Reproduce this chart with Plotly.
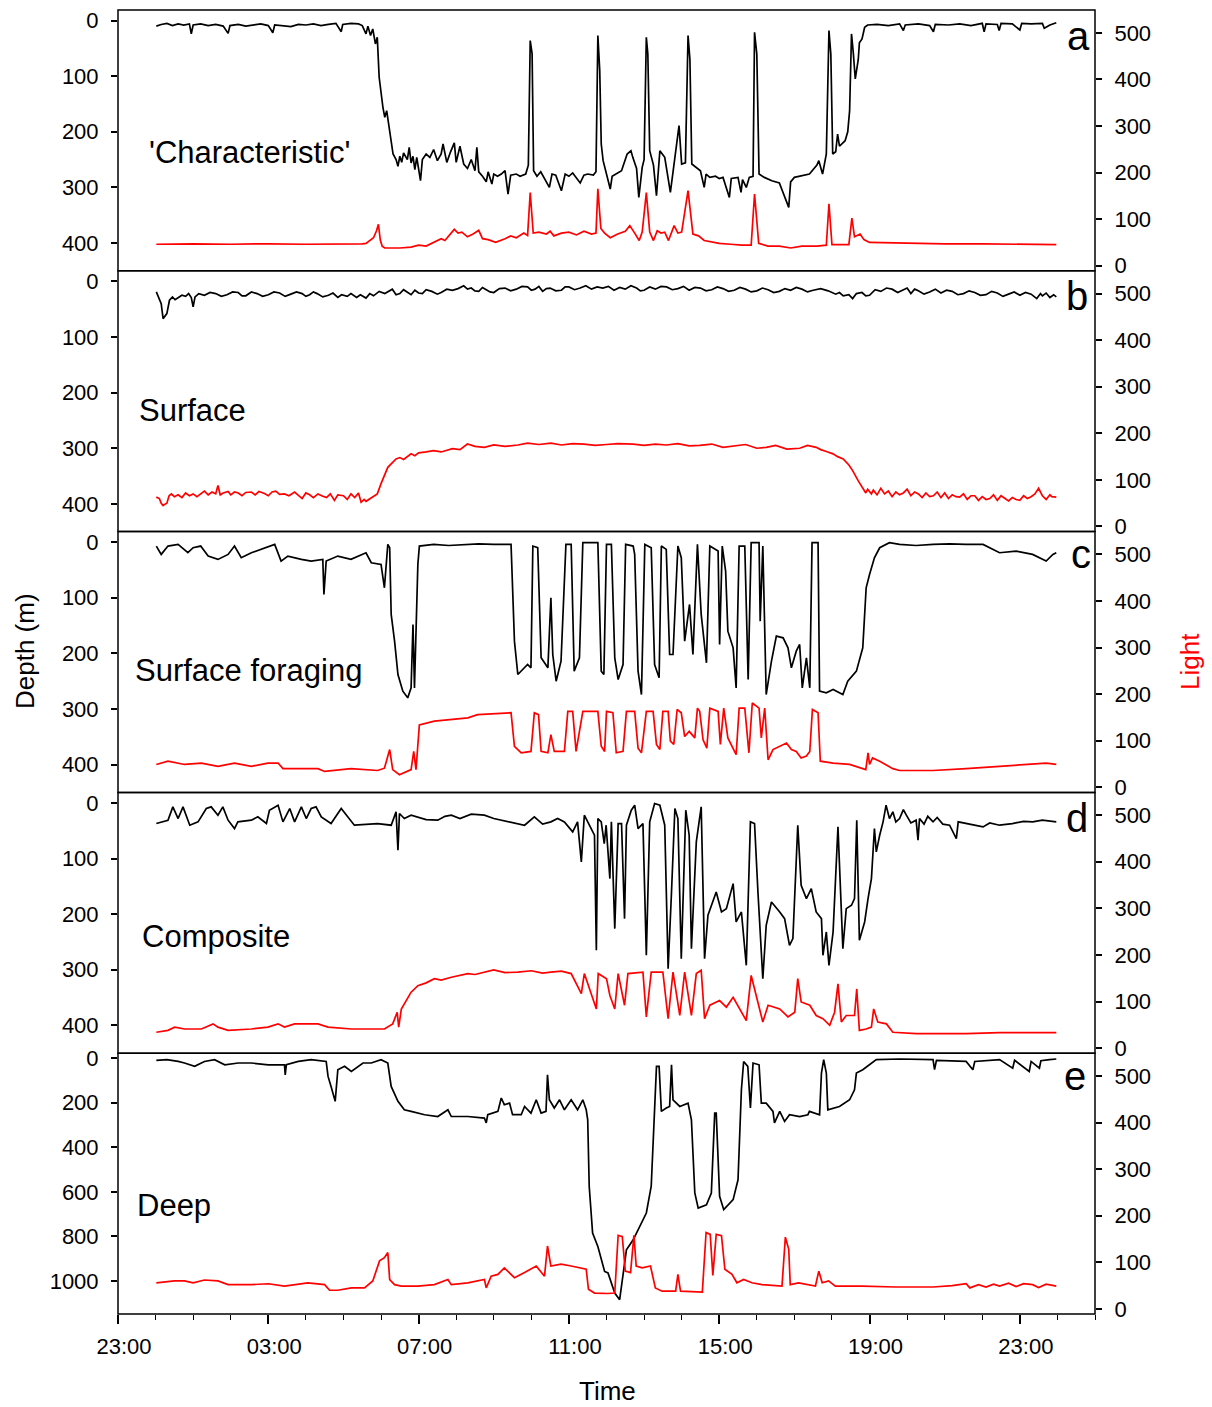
import pandas as pd
import plotly.graph_objects as go

# time in hours after 23:00 of the first day; depth in m; light in arbitrary units
A_DEPTH = [(1.02,10),(1.15,7),(1.3,5),(1.45,9),(1.6,6),(1.75,8),(1.9,6),(1.95,24),(2.0,8),(2.2,6),(2.4,9),(2.6,7),(2.8,10),(2.93,23),(2.98,9),(3.2,7),(3.4,10),(3.6,8),(3.8,6),(4.0,9),(4.12,22),(4.17,8),(4.4,9),(4.6,11),(4.8,7),(5.0,8),(5.2,6),(5.4,9),(5.6,7),(5.8,5),(5.94,20),(5.98,7),(6.2,5),(6.4,6),(6.5,9),(6.6,24),(6.65,10),(6.72,27),(6.78,15),(6.85,42),(6.9,30),(6.95,102),(7.05,156),(7.1,174),(7.15,162),(7.2,186),(7.25,204),(7.32,240),(7.4,250),(7.45,262),(7.5,244),(7.55,255),(7.6,238),(7.7,250),(7.75,228),(7.8,256),(7.85,244),(7.9,268),(7.95,246),(8.05,288),(8.1,250),(8.2,240),(8.3,246),(8.4,232),(8.5,252),(8.6,240),(8.65,222),(8.75,255),(8.85,236),(8.95,220),(9.0,255),(9.1,226),(9.2,258),(9.3,266),(9.4,250),(9.5,270),(9.55,228),(9.6,272),(9.7,280),(9.8,290),(9.85,272),(9.95,294),(10.0,276),(10.1,280),(10.2,276),(10.3,270),(10.38,312),(10.45,278),(10.6,276),(10.7,280),(10.85,276),(10.92,260),(10.97,36),(11.02,60),(11.06,270),(11.15,280),(11.25,272),(11.35,284),(11.48,300),(11.55,276),(11.65,278),(11.8,306),(11.9,276),(12.0,280),(12.1,274),(12.3,292),(12.4,278),(12.5,276),(12.65,278),(12.72,272),(12.77,27),(12.82,90),(12.86,222),(12.91,252),(13.0,276),(13.1,303),(13.15,280),(13.25,276),(13.4,270),(13.55,240),(13.65,234),(13.7,246),(13.8,266),(13.86,318),(13.95,264),(14.0,250),(14.06,30),(14.1,60),(14.15,234),(14.25,260),(14.33,315),(14.42,234),(14.55,246),(14.7,309),(14.8,258),(14.93,189),(15.0,258),(15.1,256),(15.17,27),(15.22,70),(15.27,258),(15.4,264),(15.5,270),(15.6,300),(15.65,276),(15.75,282),(15.9,280),(16.0,284),(16.1,282),(16.27,318),(16.32,284),(16.5,282),(16.58,309),(16.62,286),(16.72,300),(16.8,282),(16.9,280),(16.94,21),(17.0,60),(17.06,276),(17.2,282),(17.4,288),(17.6,292),(17.85,336),(17.9,290),(18.0,282),(18.2,279),(18.4,276),(18.6,260),(18.65,252),(18.75,276),(18.85,240),(18.92,18),(18.97,60),(19.02,240),(19.1,236),(19.15,204),(19.2,226),(19.35,216),(19.42,200),(19.47,162),(19.52,24),(19.57,60),(19.62,105),(19.7,70),(19.73,40),(19.8,33),(19.87,12),(19.95,8),(20.2,7),(20.5,9),(20.8,6),(20.9,18),(20.95,8),(21.3,6),(21.6,9),(21.7,20),(21.75,7),(22.1,8),(22.4,6),(22.7,9),(23.0,5),(23.05,20),(23.1,6),(23.4,7),(23.45,18),(23.5,5),(23.8,6),(24.0,17),(24.05,5),(24.3,6),(24.6,5),(24.65,14),(24.8,8),(24.97,4)]
A_LIGHT = [(1.02,46),(2.0,47),(3.0,46),(4.0,47),(5.0,46),(6.0,46),(6.5,47),(6.6,48),(6.7,55),(6.8,60),(6.88,75),(6.93,89),(6.98,55),(7.03,42),(7.1,38),(7.5,38),(7.8,40),(8.0,44),(8.2,42),(8.4,50),(8.6,58),(8.7,54),(8.8,64),(8.95,78),(9.05,70),(9.15,72),(9.3,62),(9.45,68),(9.6,76),(9.7,58),(9.85,56),(10.05,50),(10.3,58),(10.45,64),(10.6,60),(10.8,70),(10.9,65),(10.97,157),(11.05,70),(11.2,72),(11.4,68),(11.5,74),(11.6,64),(11.8,70),(12.0,72),(12.2,66),(12.4,74),(12.6,68),(12.72,70),(12.77,165),(12.85,80),(12.95,70),(13.1,60),(13.3,68),(13.5,74),(13.62,86),(13.75,70),(13.87,54),(13.95,72),(14.06,157),(14.15,72),(14.25,54),(14.35,75),(14.45,70),(14.55,72),(14.65,54),(14.8,86),(14.9,70),(15.0,72),(15.17,161),(15.3,68),(15.45,64),(15.6,54),(15.75,52),(16.0,48),(16.3,46),(16.6,44),(16.85,44),(16.94,154),(17.05,48),(17.3,42),(17.6,42),(17.9,38),(18.2,42),(18.6,42),(18.85,44),(18.92,133),(19.0,45),(19.45,45),(19.53,102),(19.6,62),(19.75,68),(19.85,56),(20.0,50),(21.0,48),(22.0,47),(23.0,47),(24.0,46),(24.97,45)]

B_DEPTH = [(1.02,19),(1.08,30),(1.15,40),(1.2,67),(1.25,62),(1.3,58),(1.37,34),(1.45,28),(1.52,33),(1.6,30),(1.7,25),(1.8,27),(1.88,22),(1.95,29),(2.0,46),(2.05,28),(2.15,22),(2.3,25),(2.45,20),(2.6,22),(2.75,27),(2.9,24),(3.05,19),(3.2,20),(3.3,26),(3.4,26),(3.55,19),(3.7,22),(3.85,27),(4.0,24),(4.15,19),(4.3,21),(4.45,27),(4.6,23),(4.75,19),(4.9,22),(5.0,27),(5.1,24),(5.2,19),(5.3,22),(5.45,28),(5.6,25),(5.72,21),(5.85,29),(5.95,24),(6.1,27),(6.2,22),(6.35,29),(6.45,24),(6.6,30),(6.7,22),(6.8,26),(6.95,18),(7.1,22),(7.2,18),(7.3,14),(7.4,24),(7.5,22),(7.6,15),(7.7,20),(7.8,24),(7.9,16),(8.0,21),(8.1,22),(8.2,15),(8.35,18),(8.5,23),(8.6,20),(8.75,14),(8.9,16),(9.05,13),(9.2,8),(9.3,14),(9.4,12),(9.5,17),(9.6,18),(9.7,11),(9.8,15),(9.9,19),(10.0,20),(10.15,13),(10.3,12),(10.45,17),(10.6,14),(10.75,9),(10.9,10),(11.0,16),(11.1,14),(11.2,9),(11.3,18),(11.4,13),(11.5,12),(11.65,17),(11.8,16),(11.9,10),(12.0,10),(12.15,15),(12.3,12),(12.45,8),(12.6,14),(12.75,10),(12.9,12),(13.05,9),(13.2,16),(13.35,11),(13.5,14),(13.65,8),(13.8,12),(13.9,17),(14.0,16),(14.15,10),(14.3,14),(14.45,9),(14.6,10),(14.75,15),(14.9,13),(15.05,9),(15.2,16),(15.35,11),(15.5,12),(15.65,17),(15.8,15),(15.95,10),(16.1,13),(16.25,18),(16.4,16),(16.55,11),(16.7,14),(16.85,19),(17.0,17),(17.15,12),(17.3,15),(17.45,20),(17.6,18),(17.75,13),(17.9,16),(18.05,11),(18.2,14),(18.35,19),(18.5,16),(18.7,13),(18.9,17),(19.0,20),(19.1,23),(19.2,20),(19.3,26),(19.45,24),(19.55,31),(19.65,22),(19.8,20),(19.9,26),(20.0,25),(20.15,15),(20.3,18),(20.45,12),(20.6,14),(20.75,20),(20.9,16),(21.0,12),(21.1,22),(21.2,14),(21.3,17),(21.45,23),(21.6,19),(21.75,14),(21.9,21),(22.05,16),(22.2,18),(22.35,24),(22.5,22),(22.65,17),(22.8,20),(22.95,25),(23.1,24),(23.25,18),(23.4,21),(23.55,27),(23.7,23),(23.85,19),(24.0,25),(24.15,20),(24.3,23),(24.45,31),(24.55,22),(24.6,26),(24.7,21),(24.8,29),(24.9,24),(24.97,28)]
B_LIGHT = [(1.02,63),(1.1,60),(1.15,50),(1.2,45),(1.25,48),(1.3,50),(1.36,66),(1.42,70),(1.5,64),(1.6,68),(1.7,62),(1.8,72),(1.9,66),(2.0,70),(2.1,64),(2.2,70),(2.3,76),(2.4,68),(2.5,74),(2.6,70),(2.66,88),(2.72,68),(2.8,72),(2.93,75),(3.0,68),(3.1,74),(3.2,72),(3.3,66),(3.4,73),(3.55,74),(3.65,68),(3.75,75),(3.9,71),(4.0,66),(4.1,74),(4.2,76),(4.3,69),(4.43,70),(4.55,66),(4.7,74),(4.8,68),(4.9,60),(5.0,72),(5.1,68),(5.2,62),(5.32,70),(5.45,65),(5.55,62),(5.65,70),(5.76,56),(5.85,68),(6.0,66),(6.1,58),(6.2,70),(6.3,62),(6.4,72),(6.47,52),(6.55,58),(6.6,54),(6.74,62),(6.9,70),(7.0,92),(7.18,127),(7.4,145),(7.5,148),(7.6,144),(7.8,156),(7.9,152),(8.0,158),(8.2,160),(8.4,163),(8.6,160),(8.9,167),(9.1,165),(9.3,177),(9.5,172),(9.75,170),(10.0,175),(10.3,172),(10.64,175),(10.9,179),(11.2,176),(11.52,179),(11.8,175),(12.1,178),(12.4,177),(12.7,174),(13.0,176),(13.3,178),(13.71,177),(14.0,174),(14.3,177),(14.59,175),(14.9,178),(15.2,173),(15.48,174),(15.8,177),(16.1,170),(16.37,172),(16.7,176),(17.0,168),(17.25,170),(17.5,174),(17.8,166),(18.14,168),(18.35,174),(18.58,170),(18.7,165),(18.85,161),(19.03,156),(19.15,150),(19.3,145),(19.45,132),(19.55,120),(19.7,98),(19.82,84),(19.9,72),(19.95,80),(20.05,70),(20.1,78),(20.2,68),(20.3,82),(20.4,70),(20.5,76),(20.6,64),(20.7,74),(20.8,68),(20.9,72),(21.0,80),(21.1,66),(21.2,74),(21.3,70),(21.4,62),(21.5,72),(21.6,64),(21.7,66),(21.8,74),(21.9,62),(22.0,72),(22.1,60),(22.2,68),(22.3,64),(22.4,63),(22.5,70),(22.6,58),(22.7,66),(22.8,66),(22.9,56),(23.0,64),(23.1,58),(23.2,60),(23.3,68),(23.4,56),(23.5,66),(23.6,60),(23.7,55),(23.8,62),(23.9,58),(24.0,56),(24.1,66),(24.2,60),(24.3,64),(24.4,70),(24.5,82),(24.55,74),(24.6,66),(24.7,58),(24.8,68),(24.85,64),(24.97,63)]

C_DEPTH = [(1.02,7),(1.15,22),(1.33,7),(1.6,4),(1.86,19),(2.0,10),(2.2,7),(2.4,25),(2.66,31),(2.93,22),(3.1,7),(3.28,28),(3.55,19),(3.81,13),(4.17,4),(4.34,34),(4.52,25),(4.88,31),(5.14,34),(5.45,31),(5.48,94),(5.54,34),(5.85,25),(6.2,31),(6.6,19),(6.74,37),(7.0,40),(7.09,82),(7.18,4),(7.23,10),(7.27,130),(7.36,178),(7.45,238),(7.58,268),(7.71,280),(7.8,262),(7.85,148),(7.89,262),(7.98,40),(8.02,7),(8.4,4),(8.8,6),(9.2,4),(9.6,3),(10.0,4),(10.46,4),(10.55,178),(10.64,238),(10.9,220),(10.99,226),(11.04,7),(11.17,10),(11.26,208),(11.44,226),(11.52,100),(11.57,202),(11.66,250),(11.79,214),(11.92,4),(12.06,4),(12.14,232),(12.28,208),(12.37,1),(12.77,1),(12.86,232),(12.93,238),(13.0,4),(13.13,4),(13.22,208),(13.31,247),(13.44,220),(13.51,4),(13.71,7),(13.75,22),(13.84,232),(13.93,274),(14.02,4),(14.19,10),(14.28,220),(14.4,244),(14.46,7),(14.59,13),(14.68,202),(14.77,202),(14.9,7),(14.99,28),(15.08,178),(15.21,112),(15.3,202),(15.42,4),(15.52,130),(15.66,217),(15.75,7),(15.97,16),(16.01,184),(16.08,7),(16.17,52),(16.23,160),(16.37,190),(16.45,262),(16.53,7),(16.68,7),(16.77,247),(16.85,1),(17.06,1),(17.09,142),(17.16,7),(17.25,274),(17.39,214),(17.52,169),(17.7,172),(17.83,190),(17.92,226),(18.05,196),(18.14,184),(18.21,262),(18.32,208),(18.41,262),(18.47,1),(18.63,1),(18.67,268),(18.85,271),(19.03,265),(19.29,274),(19.42,250),(19.65,232),(19.82,190),(19.91,82),(20.0,58),(20.13,28),(20.27,10),(20.53,1),(20.8,4),(21.24,6),(21.69,4),(22.13,3),(22.57,4),(23.02,4),(23.46,19),(23.9,16),(24.34,22),(24.7,34),(24.88,22),(24.97,19)]
C_LIGHT = [(1.02,49),(1.33,56),(1.77,49),(2.22,52),(2.66,45),(3.1,52),(3.55,45),(3.99,52),(4.26,52),(4.39,40),(5.32,40),(5.5,34),(6.2,40),(6.91,36),(7.09,41),(7.18,70),(7.23,81),(7.31,38),(7.49,27),(7.8,38),(7.87,77),(7.93,38),(8.02,134),(8.42,142),(8.87,145),(9.31,149),(9.57,156),(10.46,160),(10.55,88),(10.73,74),(10.99,77),(11.08,160),(11.19,156),(11.26,77),(11.44,74),(11.52,113),(11.61,77),(11.88,77),(11.97,163),(12.1,163),(12.19,77),(12.37,163),(12.77,163),(12.86,88),(12.95,77),(13.0,163),(13.17,160),(13.26,74),(13.44,77),(13.53,163),(13.75,163),(13.84,84),(13.93,74),(14.06,163),(14.24,163),(14.33,92),(14.42,81),(14.5,163),(14.64,163),(14.7,99),(14.79,92),(14.88,167),(14.99,160),(15.08,109),(15.2,120),(15.35,106),(15.42,170),(15.48,163),(15.57,102),(15.67,84),(15.75,170),(15.97,163),(16.03,92),(16.12,170),(16.23,106),(16.45,70),(16.53,170),(16.68,170),(16.79,74),(16.88,181),(17.06,170),(17.12,106),(17.21,170),(17.3,59),(17.43,81),(17.7,92),(17.79,95),(17.92,81),(18.05,77),(18.18,63),(18.32,67),(18.41,77),(18.48,167),(18.63,160),(18.69,56),(19.03,52),(19.47,49),(19.9,38),(19.96,74),(20.0,49),(20.08,63),(20.27,56),(20.62,40),(20.8,36),(21.69,36),(22.57,40),(23.46,45),(24.34,49),(24.7,52),(24.97,49)]

D_DEPTH = [(1.02,37),(1.33,31),(1.46,7),(1.6,28),(1.73,7),(1.91,40),(2.13,34),(2.35,10),(2.48,7),(2.66,22),(2.79,7),(2.93,31),(3.1,46),(3.19,34),(3.55,31),(3.72,25),(3.95,37),(4.03,13),(4.26,4),(4.39,34),(4.57,10),(4.7,34),(4.88,7),(5.01,28),(5.14,10),(5.27,7),(5.41,25),(5.67,37),(5.94,10),(6.12,25),(6.29,40),(6.91,37),(7.27,40),(7.4,16),(7.45,85),(7.49,19),(7.62,28),(7.8,22),(7.98,25),(8.2,30),(8.51,31),(8.7,24),(8.87,22),(9.1,28),(9.4,20),(9.75,22),(10.0,28),(10.2,31),(10.5,36),(10.82,40),(11.08,25),(11.3,38),(11.52,34),(11.7,28),(11.88,34),(12.1,52),(12.23,34),(12.33,106),(12.41,22),(12.54,40),(12.68,58),(12.73,265),(12.77,28),(12.86,34),(12.94,73),(12.99,40),(13.09,136),(13.13,34),(13.22,226),(13.31,37),(13.4,37),(13.48,208),(13.53,40),(13.66,13),(13.75,4),(13.84,46),(13.97,37),(14.06,274),(14.15,34),(14.28,1),(14.42,4),(14.55,40),(14.64,298),(14.73,160),(14.82,10),(14.9,28),(14.99,280),(15.11,13),(15.2,58),(15.26,262),(15.39,70),(15.52,7),(15.61,280),(15.7,202),(15.92,160),(16.06,196),(16.19,190),(16.37,145),(16.45,214),(16.59,196),(16.72,292),(16.83,34),(16.94,37),(17.03,160),(17.12,280),(17.16,316),(17.25,220),(17.39,178),(17.61,196),(17.74,208),(17.87,256),(17.96,244),(18.09,40),(18.18,148),(18.32,172),(18.45,154),(18.58,196),(18.72,208),(18.76,274),(18.85,232),(18.92,292),(19.03,232),(19.16,43),(19.25,208),(19.29,262),(19.38,190),(19.52,184),(19.6,172),(19.66,31),(19.73,247),(19.87,214),(19.96,172),(20.05,136),(20.13,46),(20.18,88),(20.27,58),(20.36,34),(20.44,4),(20.53,28),(20.62,16),(20.7,34),(20.8,28),(20.9,12),(20.98,22),(21.1,36),(21.24,31),(21.29,67),(21.33,28),(21.45,38),(21.55,24),(21.69,34),(21.8,26),(21.95,38),(22.13,40),(22.31,64),(22.36,34),(22.57,37),(22.8,40),(23.02,43),(23.2,36),(23.46,40),(23.8,37),(24.1,33),(24.34,34),(24.6,31),(24.97,34)]
D_LIGHT = [(1.02,34),(1.33,38),(1.51,45),(1.77,41),(2.22,41),(2.53,52),(2.66,45),(2.93,38),(3.55,41),(3.99,45),(4.26,52),(4.43,45),(4.7,52),(5.32,52),(5.59,45),(6.21,41),(7.09,41),(7.31,52),(7.43,77),(7.47,45),(7.54,84),(7.8,120),(7.98,134),(8.2,140),(8.42,149),(8.6,146),(8.87,152),(9.1,156),(9.31,160),(9.5,158),(9.75,163),(10.0,168),(10.3,162),(10.64,163),(11.0,166),(11.3,161),(11.52,163),(11.8,165),(12.06,160),(12.33,117),(12.41,160),(12.73,84),(12.78,160),(13.0,149),(13.09,113),(13.22,84),(13.31,160),(13.48,92),(13.57,160),(13.97,163),(14.06,67),(14.19,163),(14.5,163),(14.64,63),(14.77,163),(14.95,70),(15.08,163),(15.26,70),(15.39,160),(15.52,167),(15.61,63),(15.75,92),(16.01,102),(16.19,88),(16.37,109),(16.54,84),(16.72,59),(16.85,156),(16.99,113),(17.16,56),(17.3,92),(17.61,84),(17.83,67),(18.01,77),(18.09,149),(18.18,99),(18.41,92),(18.58,70),(18.76,63),(18.94,49),(19.07,77),(19.16,138),(19.25,56),(19.38,70),(19.6,70),(19.66,127),(19.73,38),(19.91,41),(20.05,45),(20.11,84),(20.22,56),(20.45,52),(20.62,34),(21.24,31),(22.57,31),(23.46,33),(24.97,33)]

E_DEPTH = [(1.02,10),(1.3,7),(1.6,15),(1.77,22),(2.04,37),(2.3,15),(2.57,7),(2.84,30),(3.2,22),(3.55,22),(4.0,30),(4.43,30),(4.45,75),(4.48,30),(4.8,15),(5.14,7),(5.54,15),(5.59,82),(5.67,127),(5.78,194),(5.85,52),(6.03,37),(6.21,60),(6.52,22),(6.74,22),(7.0,7),(7.18,22),(7.27,127),(7.45,194),(7.62,232),(7.8,239),(8.16,254),(8.51,262),(8.78,232),(8.87,262),(9.31,262),(9.75,269),(9.8,291),(9.84,254),(10.11,239),(10.2,179),(10.28,209),(10.42,202),(10.5,254),(10.73,254),(10.82,217),(10.99,247),(11.13,187),(11.26,247),(11.39,239),(11.43,75),(11.48,187),(11.61,224),(11.75,187),(11.88,232),(12.06,187),(12.23,232),(12.37,187),(12.46,232),(12.5,277),(12.54,575),(12.63,785),(12.77,845),(12.82,874),(12.95,957),(13.04,964),(13.22,1054),(13.35,1084),(13.53,860),(13.71,815),(13.88,755),(14.06,695),(14.19,575),(14.26,277),(14.33,37),(14.4,37),(14.46,239),(14.59,224),(14.68,217),(14.73,30),(14.77,187),(14.95,217),(15.17,202),(15.26,277),(15.35,605),(15.44,673),(15.66,658),(15.79,605),(15.88,247),(15.92,247),(16.01,620),(16.12,680),(16.37,635),(16.5,546),(16.59,142),(16.65,15),(16.76,37),(16.83,224),(16.9,22),(17.06,30),(17.12,202),(17.25,202),(17.43,239),(17.47,291),(17.61,239),(17.74,284),(17.87,254),(18.14,262),(18.36,254),(18.4,239),(18.67,254),(18.72,67),(18.78,7),(18.85,67),(18.89,232),(19.2,217),(19.47,187),(19.6,142),(19.65,67),(19.82,52),(20.0,30),(20.18,7),(20.8,4),(21.69,7),(21.73,52),(21.78,10),(22.57,15),(22.75,52),(22.8,15),(23.46,7),(23.81,45),(23.86,10),(24.25,60),(24.3,15),(24.52,45),(24.56,12),(24.79,7),(24.97,4)]
E_LIGHT = [(1.02,56),(1.5,60),(1.77,60),(2.0,56),(2.3,62),(2.66,60),(2.93,52),(3.55,52),(4.0,54),(4.43,49),(5.05,56),(5.5,52),(5.63,40),(5.85,40),(6.21,45),(6.56,45),(6.78,60),(6.96,103),(7.09,110),(7.18,121),(7.23,63),(7.36,52),(7.54,49),(7.98,49),(8.42,52),(8.78,63),(8.87,52),(9.31,56),(9.75,63),(9.8,45),(9.93,70),(10.11,74),(10.28,88),(10.42,78),(10.55,67),(10.82,78),(11.13,92),(11.35,70),(11.43,135),(11.52,92),(11.79,96),(12.06,92),(12.32,88),(12.46,85),(12.52,42),(12.68,34),(13.03,33),(13.22,34),(13.31,158),(13.42,155),(13.5,81),(13.64,78),(13.73,158),(13.79,92),(13.95,88),(14.17,92),(14.3,45),(14.48,38),(14.84,38),(14.9,74),(14.97,38),(15.55,36),(15.65,164),(15.76,160),(15.83,72),(15.92,160),(16.06,157),(16.15,85),(16.34,74),(16.47,56),(16.65,63),(16.87,56),(17.14,52),(17.67,49),(17.76,154),(17.85,128),(17.89,52),(18.11,56),(18.56,49),(18.65,81),(18.74,56),(18.91,60),(19.09,49),(19.8,49),(20.69,47),(21.69,47),(22.2,50),(22.57,54),(22.67,45),(22.9,52),(23.1,47),(23.3,53),(23.46,49),(23.7,55),(23.9,48),(24.1,54),(24.34,52),(24.5,46),(24.7,53),(24.97,49)]

PANEL_LABELS = ["'Characteristic'", "Surface", "Surface foraging", "Composite", "Deep"]
PANEL_LETTERS = ["a", "b", "c", "d", "e"]
DEPTH_TICKS_SHALLOW = [0, 100, 200, 300, 400]
DEPTH_TICKS_DEEP = [0, 200, 400, 600, 800, 1000]
LIGHT_TICKS = [0, 100, 200, 300, 400, 500]

FONT = "Arial, 'Liberation Sans', sans-serif"
BASE = pd.Timestamp("2000-01-01 23:00")


def to_time(series):
    return [BASE + pd.Timedelta(hours=p[0]) for p in series]


panels = [
    (A_DEPTH, A_LIGHT, [450, -19], DEPTH_TICKS_SHALLOW),
    (B_DEPTH, B_LIGHT, [450, -19], DEPTH_TICKS_SHALLOW),
    (C_DEPTH, C_LIGHT, [450, -19], DEPTH_TICKS_SHALLOW),
    (D_DEPTH, D_LIGHT, [450, -19], DEPTH_TICKS_SHALLOW),
    (E_DEPTH, E_LIGHT, [1148, -22], DEPTH_TICKS_DEEP),
]

fig = go.Figure()
layout = {}
shapes = []
axis_common = dict(showgrid=False, zeroline=False, showline=False, ticks="outside",
                   ticklen=6, tickwidth=1.5, tickcolor="black", automargin=False,
                   ticklabelstandoff=8,
                   tickfont=dict(family=FONT, size=22, color="black"))

for i, (dep, lig, rng, tv) in enumerate(panels):
    n1, n2 = 2 * i + 1, 2 * i + 2
    ya = "y" if n1 == 1 else f"y{n1}"
    yb = f"y{n2}"
    dom = [0.8 - 0.2 * i, 1.0 - 0.2 * i]
    fig.add_trace(go.Scatter(x=to_time(lig), y=[p[1] for p in lig], mode="lines",
                             line=dict(color="#ff0000", width=1.7), xaxis="x", yaxis=yb,
                             showlegend=False, hoverinfo="skip"))
    fig.add_trace(go.Scatter(x=to_time(dep), y=[p[1] for p in dep], mode="lines",
                             line=dict(color="black", width=1.7), xaxis="x", yaxis=ya,
                             showlegend=False, hoverinfo="skip"))
    layout["yaxis" if n1 == 1 else f"yaxis{n1}"] = dict(
        domain=dom, range=rng, tickmode="array", tickvals=tv, anchor="x", side="left", **axis_common)
    layout[f"yaxis{n2}"] = dict(
        overlaying=ya, range=[-11, 549], tickmode="array", tickvals=LIGHT_TICKS, anchor="x",
        side="right", **axis_common)
    shapes.append(dict(type="rect", xref="paper", yref="paper", x0=0, x1=1, y0=dom[0], y1=dom[1],
                       line=dict(color="black", width=1.5), layer="above"))

layout["xaxis"] = dict(
    domain=[0, 1], anchor="y9", type="date", automargin=False,
    range=[BASE, BASE + pd.Timedelta(hours=26)],
    tick0=BASE, dtick=4 * 3600 * 1000, tickformat="%H:%M",
    showgrid=False, zeroline=False, showline=False,
    ticks="outside", ticklen=9, tickwidth=1.5, tickcolor="black",
    ticklabelshift=6, ticklabelstandoff=4,
    tickfont=dict(family=FONT, size=22, color="black"),
    minor=dict(tick0=BASE, dtick=3600 * 1000, ticks="outside", ticklen=5, tickwidth=1.2,
               tickcolor="black", showgrid=False),
)

H = 1304.0
W = 977.0


def px(x):
    return (x - 118) / W


def py(y):
    return (1314 - y) / H


annotations = []
label_pos = [(147, 153), (137, 410), (133, 670), (140, 936), (135, 1205)]
for (lx, ly), txt in zip(label_pos, PANEL_LABELS):
    annotations.append(dict(text=txt, x=px(lx), y=py(ly), xref="paper", yref="paper",
                            xanchor="left", yanchor="middle", showarrow=False,
                            font=dict(family=FONT, size=31, color="black")))
letter_pos = [(1078, 36), (1077, 296), (1081, 554), (1077, 818), (1075, 1076)]
for (lx, ly), txt in zip(letter_pos, PANEL_LETTERS):
    annotations.append(dict(text=txt, x=px(lx), y=py(ly), xref="paper", yref="paper",
                            xanchor="center", yanchor="middle", showarrow=False,
                            font=dict(family=FONT, size=40, color="black")))
annotations.append(dict(text="Depth (m)", x=px(25), y=py(651), xref="paper", yref="paper",
                        xanchor="center", yanchor="middle", showarrow=False, textangle=-90,
                        font=dict(family=FONT, size=26, color="black")))
annotations.append(dict(text="Light", x=px(1190), y=py(662), xref="paper", yref="paper",
                        xanchor="center", yanchor="middle", showarrow=False, textangle=-90,
                        font=dict(family=FONT, size=26, color="#ff0000")))
annotations.append(dict(text="Time", x=px(607), y=py(1391), xref="paper", yref="paper",
                        xanchor="center", yanchor="middle", showarrow=False,
                        font=dict(family=FONT, size=26, color="black")))

fig.update_layout(
    width=1212, height=1407,
    margin=dict(l=118, r=117, t=10, b=93, pad=0),
    paper_bgcolor="white", plot_bgcolor="white",
    showlegend=False,
    shapes=shapes, annotations=annotations,
    **layout,
)

fig.write_html("out.html")
